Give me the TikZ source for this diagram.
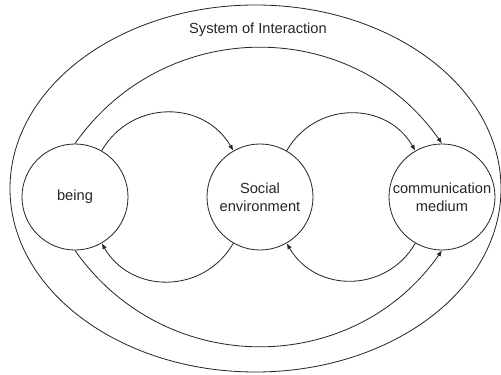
\documentclass[tikz,border=0pt]{standalone}
\usepackage{fontspec}
\setmainfont{Liberation Sans}
\usetikzlibrary{arrows.meta}
\begin{document}
\begin{tikzpicture}[x=0.03cm,y=-0.03cm,
  ink/.style={draw=black!85,line width=0.7pt},
  agent/.style={ink,circle,minimum size=3.18cm,inner sep=0pt,align=center,
    font=\fontsize{12.5}{15}\selectfont,text=black!85},
  flow/.style={ink,-{Latex[length=5pt,width=4pt]}},
  small/.style={flow,looseness=1.15},
  wide/.style={flow,looseness=1.09}]
\useasboundingbox (0,0) rectangle (501,375);
% enclosing system
\draw[ink] (255.5,188.5) ellipse [x radius=245.5, y radius=183.5];
\node[font=\fontsize{12.5}{15}\selectfont,text=black!85] (title) at (258,30) {System of Interaction};
% the three parts
\node[agent] (being) at (75,197) {being};
\node[agent] (social) at (260,197) {Social\\environment};
\node[agent] (medium) at (442,197) {communication\\medium};
% exchanges between neighbours
\draw[small] (being.60) to[out=60,in=120] (social.120);
\draw[small] (social.240) to[out=-120,in=-60] (being.300);
\draw[small] (social.60) to[out=60,in=120] (medium.120);
\draw[small] (medium.240) to[out=-120,in=-60] (social.300);
% direct links around the middle
\draw[wide] (being.90) to[out=55,in=125] (medium.90);
\draw[wide] (being.270) to[out=-55,in=-125] (medium.270);
\end{tikzpicture}
\end{document}
